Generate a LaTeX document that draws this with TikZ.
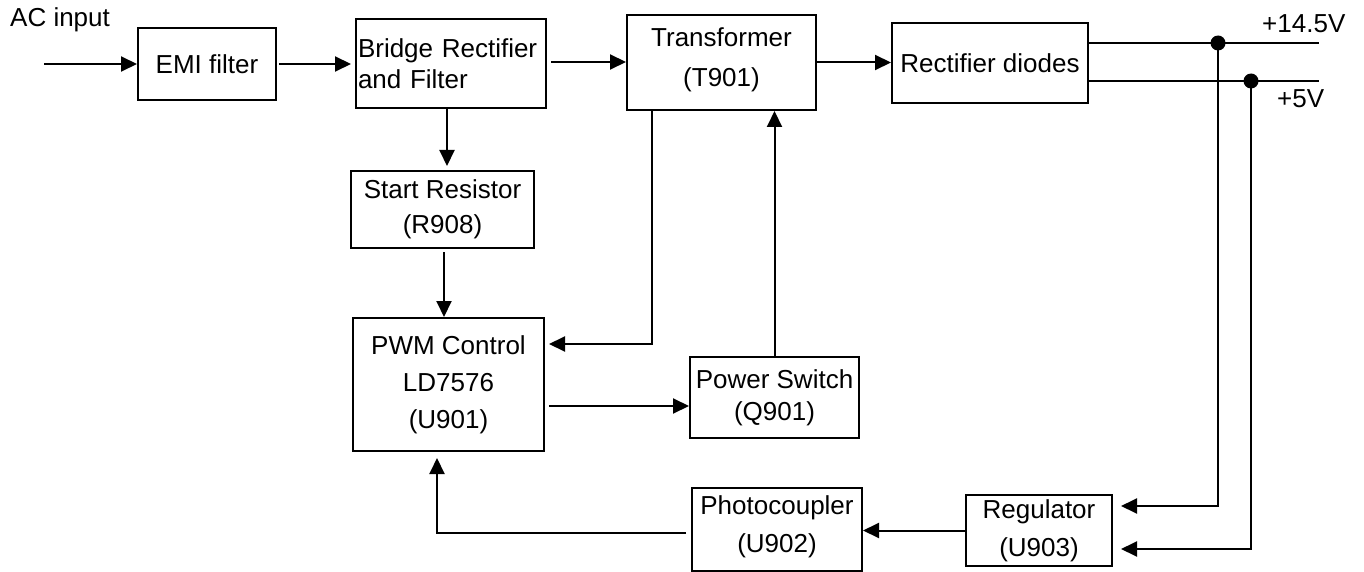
\documentclass[tikz,border=0pt]{standalone}
\usepackage{fontspec}
\setmainfont{Liberation Sans}
\usetikzlibrary{arrows.meta}
\begin{document}
\begin{tikzpicture}[x=1pt,y=-1pt,
  blk/.style={draw,line width=2pt,inner sep=0pt,align=center,font=\fontsize{26}{36}\selectfont},
  arr/.style={line width=2pt,-{Triangle[length=16pt,width=15pt]}},
  wire/.style={line width=2pt},
  lbl/.style={inner sep=0pt,font=\fontsize{26}{30}\selectfont},
  jdot/.style={circle,fill=black,inner sep=0pt,minimum size=15pt}]
\useasboundingbox (0,0) rectangle (1364,572);
% boxes
\node[blk,minimum width=138pt,minimum height=72pt] (emi) at (207,64) {EMI filter};
\node[blk,minimum width=190pt,minimum height=89pt,text width=186pt,align=left,font=\fontsize{26}{31}\selectfont] (bridge) at (451,63.5) {Bridge Rectifier\\and Filter};
\node[blk,minimum width=189pt,minimum height=95pt] (trans) at (721.5,62.5) {};
\node[inner sep=0pt,align=center,font=\fontsize{26}{40}\selectfont] (transtxt) at (721.5,59.5) {Transformer\\(T901)};
\node[blk,minimum width=196pt,minimum height=80pt] (rect) at (990,63) {Rectifier diodes};
\node[blk,minimum width=183pt,minimum height=77pt,font=\fontsize{26}{35}\selectfont] (start) at (442.5,209.5) {Start Resistor\\(R908)};
\node[blk,minimum width=191pt,minimum height=133pt,font=\fontsize{26}{37}\selectfont] (pwm) at (448.5,384.5) {PWM Control\\LD7576\\(U901)};
\node[blk,minimum width=169pt,minimum height=81pt,font=\fontsize{26}{32}\selectfont] (psw) at (774.5,397.5) {Power Switch\\(Q901)};
\node[blk,minimum width=170pt,minimum height=83pt] (photo) at (777,529.5) {};
\node[inner sep=0pt,align=center,font=\fontsize{26}{38}\selectfont] (phototxt) at (777,526.5) {Photocoupler\\(U902)};
\node[blk,minimum width=146pt,minimum height=71pt,font=\fontsize{26}{38}\selectfont] (reg) at (1039,530.5) {Regulator\\(U903)};
% labels
\node[lbl,anchor=base west] (aclbl) at (10,27) {AC input};
\node[lbl,anchor=base west] (v14lbl) at (1262,33) {+14.5V};
\node[lbl,anchor=base west] (v5lbl) at (1277,108) {+5V};
% coordinates
\coordinate (acin) at (44,64);
\coordinate (o14) at (1319,43);
\coordinate (o5) at (1319,81);
\coordinate (d14) at (1218,43);
\coordinate (d5) at (1251,81);
\coordinate (bt) at ([yshift=1.5pt]bridge.east);
% connectors
\draw[arr] (acin) -- (emi.west);
\draw[arr,shorten >=4pt,shorten <=2pt] (emi.east) -- (bridge.west |- emi.east);
\draw[arr,shorten <=4pt] (bt) -- (trans.west |- bt);
\draw[arr] (trans.east) -- (rect.west |- trans.east);
\draw[arr,shorten >=4pt] ([xshift=-4pt]bridge.south) -- ([xshift=4.5pt]start.north);
\draw[arr,shorten <=3pt] ([xshift=1.5pt]start.south) -- ([xshift=-4.5pt]pwm.north);
\draw[arr,shorten >=4pt] ([xshift=-69.5pt]trans.south) |- ([yshift=40.5pt]pwm.east);
\draw[arr,shorten <=4pt] ([yshift=-21.5pt]pwm.east) -- ([yshift=-8.5pt]psw.west);
\draw[arr] (psw.north) -- (psw.north |- trans.south);
\draw[wire] (rect.east |- o14) -- (o14);
\draw[wire] (rect.east |- o5) -- (o5);
\draw[arr,shorten >=8pt] (d14) |- ([yshift=24.5pt]reg.east);
\draw[arr,shorten >=8pt] (d5) |- ([yshift=-18.5pt]reg.east);
\node[jdot] (j14) at (d14) {};
\node[jdot] (j5) at (d5) {};
\draw[arr] (reg.west) -- (photo.east |- reg.west);
\draw[arr,shorten >=6pt,shorten <=5pt] ([yshift=-3.5pt]photo.west) -| ([xshift=-11.5pt]pwm.south);
\end{tikzpicture}
\end{document}
